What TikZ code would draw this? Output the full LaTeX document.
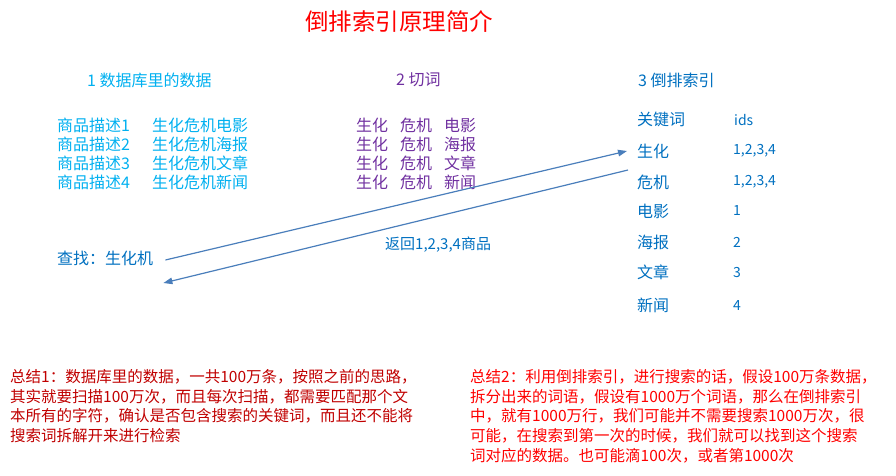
\documentclass[tikz,border=0pt]{standalone}
\usepackage{fontspec}
\newfontfamily\cjkfont{Noto Sans CJK SC}
\usetikzlibrary{arrows.meta, positioning, calc}
\definecolor{titlered}{HTML}{FF0000}
\definecolor{dbblue}{HTML}{00B0F0}
\definecolor{cutpurple}{HTML}{7030A0}
\definecolor{idxblue}{HTML}{0070C0}
\definecolor{linkblue}{HTML}{4A7EBB}
\definecolor{notedark}{HTML}{C00000}
\tikzset{
  font=\cjkfont,
  >={Triangle[length=9pt, width=6.5pt]},
  %
  txt/.style={inner sep=0pt, anchor=west, font=\cjkfont\fontsize{16}{19}\selectfont},
  dbtxt/.style={txt, text=dbblue},
  cuttxt/.style={txt, text=cutpurple},
  idxtxt/.style={txt, text=idxblue},
  idstxt/.style={idxtxt, font=\cjkfont\fontsize{14}{17}\selectfont},
  %
  note/.style={inner sep=0pt, anchor=north west, align=left,
               font=\cjkfont\fontsize{15.5}{19.8}\selectfont},
  link/.style={draw=linkblue, line width=1.2pt, ->},
}

\begin{document}
\begin{tikzpicture}[x=1pt, y=-1pt]
\useasboundingbox (0,0) rectangle (896,475);

% ------------------------------------------------------------------ title
\node[inner sep=0pt, text=titlered, font=\cjkfont\fontsize{23.5}{28}\selectfont]
  (title) at (399,22) {倒排索引原理简介};

% --------------------------------------------------------------- headings
\node[dbtxt]  (h1) at (87,80)  {1 数据库里的数据};
\node[cuttxt] (h2) at (396,80) {2 切词};
\node[idxtxt] (h3) at (638,80) {3 倒排索引};

% ------------------------------------------------------- records and cuts
\foreach \i/\w in {1/电影, 2/海报, 3/文章, 4/新闻} {
  \node[dbtxt]  (d\i) at (57,106+19*\i)  {商品描述\i};
  \node[dbtxt]  (t\i) at (152,106+19*\i) {生化危机\w};
  \node[cuttxt] (c\i) at (356,106+19*\i) {生化\hspace{12pt}危机\hspace{12pt}\w};
}

% ------------------------------------------------------------------ index
\node[idxtxt] (kh) at (637,119) {关键词};
\node[idstxt] (ih) at (734,120) {ids};

\node[idxtxt] (k1) at (637,151) {生化};
\node[idxtxt] (k2) at (637,182) {危机};
\node[idxtxt] (k3) at (637,211) {电影};
\node[idxtxt] (k4) at (637,242) {海报};
\node[idxtxt] (k5) at (637,272) {文章};
\node[idxtxt] (k6) at (637,305) {新闻};

\node[idstxt] (i1) at (733,151) {1,2,3,4};
\node[idstxt] (i2) at (733,182) {1,2,3,4};
\node[idstxt] (i3) at (733,211) {1};
\node[idstxt] (i4) at (733,242) {2};
\node[idstxt] (i5) at (733,272) {3};
\node[idstxt] (i6) at (733,305) {4};

% ------------------------------------------------------------ query/return
\node[idxtxt] (q) at (57,258) {查找：生化机};
\node[idxtxt, font=\cjkfont\fontsize{15}{18}\selectfont] (ret) at (385,245) {返回1,2,3,4商品};

\draw[link] ([shift={(12,2)}]q.east) -- ([shift={(-10,0)}]k1.west);
\draw[link] ([shift={(-9,19)}]k1.west) -- ([shift={(10,25)}]q.east);

% ---------------------------------------------------------------- summary
\node[note, text=notedark] (s1) at (10,369)
  {总结1：数据库里的数据，一共100万条，按照之前的思路，\\
   其实就要扫描100万次，而且每次扫描，都需要匹配那个文\\
   本所有的字符，确认是否包含搜索的关键词，而且还不能将\\
   搜索词拆解开来进行检索};
\node[note, text=titlered] (s2) at (470,369)
  {总结2：利用倒排索引，进行搜索的话，假设100万条数据，\\
   拆分出来的词语，假设有1000万个词语，那么在倒排索引\\
   中，就有1000万行，我们可能并不需要搜索1000万次，很\\
   可能，在搜索到第一次的时候，我们就可以找到这个搜索\\
   词对应的数据。也可能滴100次，或者第1000次};

\end{tikzpicture}
\end{document}
